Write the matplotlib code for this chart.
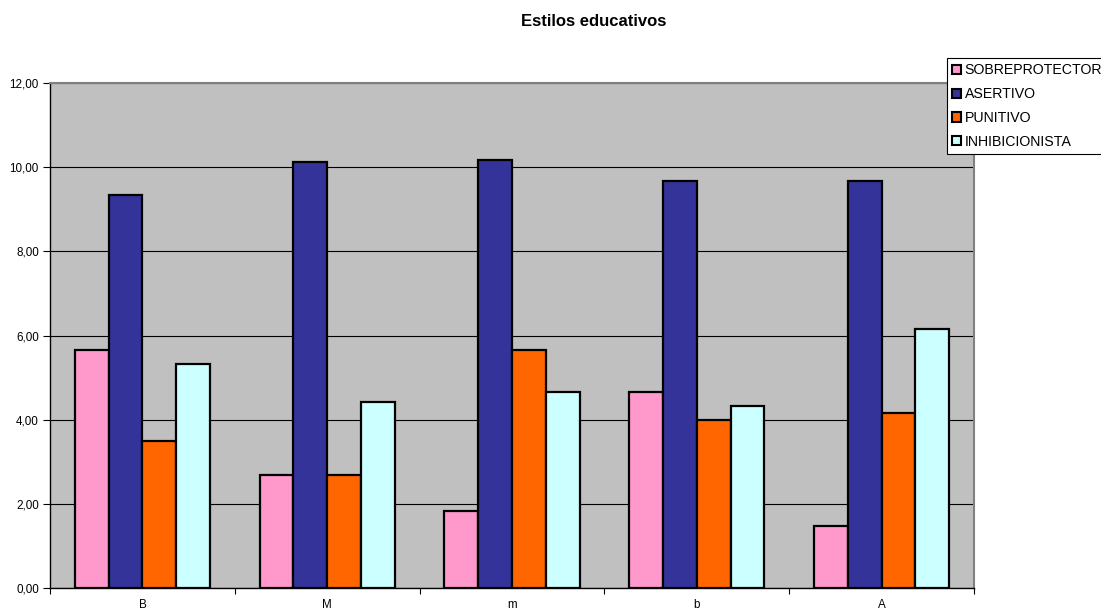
import matplotlib
matplotlib.use("Agg")
import matplotlib.pyplot as plt
import numpy as np
from matplotlib.patches import Patch

plt.rcParams['font.family'] = ['Liberation Sans', 'DejaVu Sans']

categories = ['B', 'M', 'm', 'b', 'A']
series_names = ['SOBREPROTECTOR', 'ASERTIVO', 'PUNITIVO', 'INHIBICIONISTA']
sobreprotector = [5.66, 2.69, 1.83, 4.65, 1.48]
asertivo = [9.33, 10.13, 10.17, 9.66, 9.66]
punitivo = [3.49, 2.69, 5.66, 3.99, 4.17]
inhibicionista = [5.33, 4.42, 4.66, 4.33, 6.16]
colors = ['#FF99CC', '#333399', '#FF6600', '#CCFFFF']
yticks = [0, 2, 4, 6, 8, 10, 12]

W, H = 1101, 610
fig = plt.figure(figsize=(W / 100, H / 100), dpi=100)
ax = fig.add_axes([50 / W, (H - 588) / H, (974 - 50) / W, (588 - 83) / H])
ax.set_facecolor('#C0C0C0')

data = [sobreprotector, asertivo, punitivo, inhibicionista]
x = np.arange(len(categories))
bw = 0.183
for i, (vals, c, name) in enumerate(zip(data, colors, series_names)):
    ax.bar(x + (i - 1.5) * bw, vals, width=bw, color=c, edgecolor='black',
           linewidth=1.6, label=name, zorder=3)

ax.set_xlim(-0.5, len(categories) - 0.5)
ax.set_ylim(0, 12)
ax.set_yticks(yticks)
ax.set_yticklabels([f"{v:.2f}".replace('.', ',') for v in yticks], fontsize=8.4)
ax.yaxis.grid(True, color='black', linewidth=0.8, zorder=1)
ax.set_axisbelow(True)

ax.set_xticks(x)
ax.set_xticklabels(categories, fontsize=8.4)
ax.tick_params(axis='x', which='major', length=0, pad=8)
ax.set_xticks(np.arange(-0.5, len(categories)), minor=True)
ax.tick_params(axis='x', which='minor', length=4, width=0.8, direction='out')
ax.tick_params(axis='y', length=5, width=0.8, direction='out', pad=3)

for side in ['top', 'right']:
    ax.spines[side].set_color('#808080')
    ax.spines[side].set_linewidth(1.5)
for side in ['left', 'bottom']:
    ax.spines[side].set_color('black')
    ax.spines[side].set_linewidth(1.0)

fig.text(594 / W, 1 - 22 / H, 'Estilos educativos', ha='center', va='center',
         fontsize=12, fontweight='bold')

handles = [Patch(facecolor=c, edgecolor='black', linewidth=1.5) for c in colors]
leg = fig.legend(handles, series_names, loc='upper left',
                 bbox_to_anchor=(947 / W, 1 - 58 / H),
                 bbox_transform=fig.transFigure,
                 fontsize=10.2, frameon=True, fancybox=False, framealpha=1,
                 edgecolor='black', handlelength=0.62, handleheight=0.62,
                 handletextpad=0.25, labelspacing=0.69, borderpad=0.38,
                 borderaxespad=0)
leg.get_frame().set_linewidth(0.8)

fig.savefig('out.png', dpi=100)
